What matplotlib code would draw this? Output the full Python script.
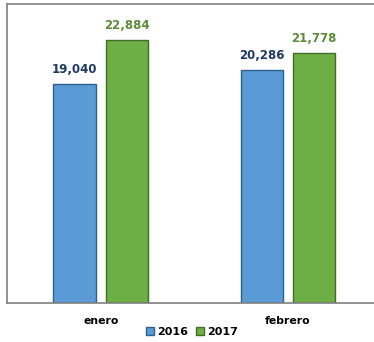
import matplotlib
matplotlib.use("Agg")
import matplotlib.pyplot as plt
import numpy as np

categories = ["enero", "febrero"]
series_names = ["2016", "2017"]
values_2016 = [19040, 20286]
values_2017 = [22884, 21778]

fig = plt.figure(figsize=(3.74, 3.42), dpi=100)
ax = fig.add_axes([7/374, (342-303)/342, 1.0 - 7/374 + 0.01, (303-4)/342])

x = np.arange(len(categories))
w = 0.226
off = 0.140
blue = "#5B9BD5"
green = "#6DAE45"
b1 = ax.bar(x - off, values_2016, width=w, color=blue, edgecolor="#2F5F8F", linewidth=1.0, label=series_names[0])
b2 = ax.bar(x + off, values_2017, width=w, color=green, edgecolor="#3F6E24", linewidth=1.0, label=series_names[1])

for xi, v in zip(x - off, values_2016):
    ax.text(xi, v + 700, f"{v:,}", ha="center", va="bottom", fontsize=8.5,
            fontweight="bold", color="#1F3864")
for xi, v in zip(x + off, values_2017):
    ax.text(xi, v + 700, f"{v:,}", ha="center", va="bottom", fontsize=8.5,
            fontweight="bold", color="#5E8C3A")

ax.set_xlim(-0.501, 1.48)
ax.set_ylim(0, 26000)
ax.set_yticks([])
ax.set_xticks(x)
ax.set_xticklabels(categories, fontsize=7.8, fontweight="bold")
ax.tick_params(axis="x", length=0, pad=9)
for s in ["left", "top", "bottom"]:
    ax.spines[s].set_color("#7F7F7F")
    ax.spines[s].set_linewidth(1.2)
ax.spines["right"].set_visible(False)

leg = fig.legend(handles=[b1, b2], labels=series_names, loc="center",
                 bbox_to_anchor=(192/374, 1 - 332/342), ncol=2, frameon=False,
                 prop={"size": 8, "weight": "bold"}, handlelength=0.7,
                 handleheight=0.7, handletextpad=0.3, columnspacing=0.7)

fig.savefig("out.png", dpi=100)
